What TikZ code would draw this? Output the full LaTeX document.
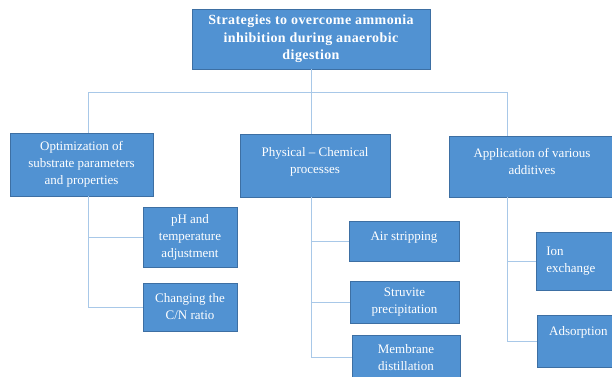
\documentclass[tikz,border=0pt]{standalone}
\usepackage{fontspec}
\setmainfont{Liberation Serif}
\newfontfamily\widebold[LetterSpace=3]{Liberation Serif}
\usepackage{tikz}

\definecolor{boxblue}{HTML}{5192D2}
\definecolor{boxedge}{HTML}{3D6FA3}
\definecolor{linkblue}{HTML}{A8C8E8}

\begin{document}
\begin{tikzpicture}[x=1pt,y=-1pt,line width=.8pt,
  box/.style={draw=boxedge,fill=boxblue,text=white,align=center,inner sep=2pt,
    font=\fontsize{13}{17}\selectfont},
  link/.style={draw=linkblue,line width=1pt}]
\clip (0,0) rectangle (612,376);
\fill[white] (0,0) rectangle (612,376);
% boxes
\node[box,minimum width=238,minimum height=60,font=\widebold\bfseries\fontsize{14}{17.5}\selectfont] (top) at (311,39)
  {Strategies to overcome ammonia\\inhibition during anaerobic\\digestion};
\node[box,minimum width=143,minimum height=63] (opt) at (81.5,164.5) {Optimization of\\substrate parameters\\and properties};
\node[box,minimum width=150,minimum height=63,text depth=10pt] (phys) at (315,165.5) {Physical -- Chemical\\processes};
\node[box,minimum width=166,minimum height=61,text depth=10pt] (app) at (532,166.5) {Application of various\\additives};
\node[box,minimum width=94,minimum height=60] (ph) at (190,237) {pH and\\temperature\\adjustment};
\node[box,minimum width=94,minimum height=48] (cn) at (190,307) {Changing the\\C/N ratio};
\node[box,minimum width=110,minimum height=40,text depth=10pt] (air) at (404,241) {Air stripping};
\node[box,minimum width=109,minimum height=42] (struv) at (404.5,302) {Struvite\\precipitation};
\node[box,minimum width=108,minimum height=45] (memb) at (406,357.5) {Membrane\\distillation};
\node[box,anchor=west,align=left,text width=64,inner xsep=10pt,minimum height=58] (ion) at (536,261) {Ion\\exchange};
\node[box,anchor=west,minimum width=82,minimum height=52,text depth=20pt] (ads) at (537,341) {Adsorption};
% connectors
\coordinate (busL) at (88,92);
\coordinate (busR) at (507,92);
\draw[link] (busL) -- (busR);
\draw[link] (top.south) -- (top.south |- busL);
\draw[link] (busL) -- (busL |- opt.north);
\draw[link] (busR) -- (busR |- app.north);
\draw[link] (top.south |- busL) -- (top.south |- phys.north);
\draw[link] (busL |- opt.south) |- (ph.west);
\draw[link] (busL |- opt.south) |- (cn.west);
\draw[link] (top.south |- phys.south) |- (air.west);
\draw[link] (top.south |- phys.south) |- (struv.west);
\draw[link] (top.south |- phys.south) |- (memb.west);
\draw[link] (busR |- app.south) |- (ion.west);
\draw[link] (busR |- app.south) |- (ads.west);
\end{tikzpicture}
\end{document}
